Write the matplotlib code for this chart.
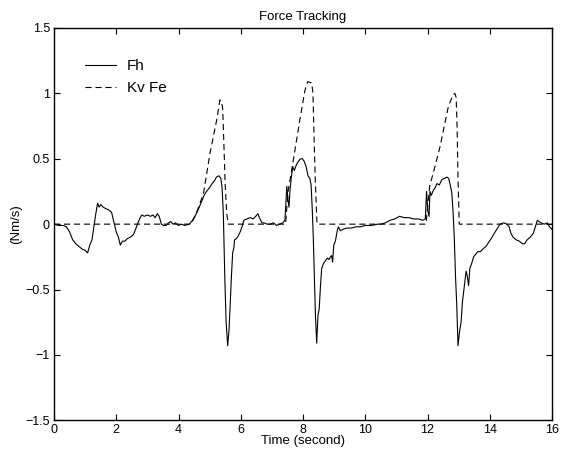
import matplotlib
matplotlib.use("Agg")
import matplotlib.pyplot as plt

plt.rcParams['font.family'] = ['Liberation Sans', 'DejaVu Sans']

# Fh (time, value)
t_fh = [0.00, 0.15, 0.30, 0.40, 0.50, 0.60, 0.70, 0.80, 0.90, 1.00, 1.08, 1.15, 1.22, 1.28, 1.33,
        1.40, 1.45, 1.50, 1.58, 1.65, 1.75, 1.85, 1.92, 2.00, 2.07, 2.13, 2.20, 2.28, 2.36, 2.45,
        2.55, 2.62, 2.68, 2.75, 2.82, 2.90, 3.00, 3.10, 3.18, 3.25, 3.32, 3.38, 3.45, 3.52, 3.60,
        3.68, 3.75, 3.82, 3.90, 4.00, 4.10, 4.20, 4.35, 4.45, 4.55, 4.65, 4.75, 4.82, 4.90, 5.00,
        5.08, 5.15, 5.22, 5.30, 5.36, 5.40, 5.44, 5.49, 5.53, 5.58, 5.62, 5.66, 5.70, 5.74, 5.78,
        5.80, 5.86, 5.92, 5.98, 6.04, 6.10, 6.20, 6.30, 6.40, 6.48, 6.55, 6.60, 6.68, 6.75, 6.85,
        6.95, 7.05, 7.15, 7.25, 7.35, 7.42, 7.46, 7.48, 7.52, 7.55, 7.58, 7.62, 7.67, 7.72, 7.78,
        7.85, 7.92, 7.98, 8.04, 8.10, 8.16, 8.22, 8.26, 8.30, 8.33, 8.37, 8.40, 8.44, 8.48, 8.52,
        8.56, 8.60, 8.66, 8.72, 8.78, 8.84, 8.88, 8.92, 8.95, 8.99, 9.04, 9.10, 9.14, 9.20, 9.28,
        9.40, 9.55, 9.70, 9.85, 10.00, 10.20, 10.40, 10.50, 10.65, 10.80, 10.95, 11.10, 11.25, 11.40,
        11.55, 11.70, 11.85, 11.93, 11.97, 12.01, 12.05, 12.08, 12.12, 12.19, 12.25, 12.30, 12.38,
        12.46, 12.55, 12.62, 12.68, 12.73, 12.78, 12.82, 12.86, 12.90, 12.94, 12.98, 13.03, 13.08,
        13.12, 13.18, 13.24, 13.28, 13.32, 13.36, 13.42, 13.48, 13.55, 13.62, 13.70, 13.78, 13.88,
        13.96, 14.05, 14.12, 14.20, 14.28, 14.33, 14.45, 14.55, 14.62, 14.68, 14.75, 14.85, 14.95,
        15.05, 15.12, 15.20, 15.30, 15.40, 15.48, 15.53, 15.58, 15.65, 15.75, 15.85, 15.92, 16.00]
fh = [0.00, -0.01, -0.01, -0.02, -0.06, -0.12, -0.15, -0.17, -0.19, -0.20, -0.22, -0.16, -0.12, -0.02, 0.06,
      0.16, 0.13, 0.15, 0.13, 0.12, 0.11, 0.09, 0.02, -0.06, -0.10, -0.16, -0.13, -0.13, -0.11, -0.10,
      -0.08, -0.04, 0.00, 0.04, 0.07, 0.06, 0.07, 0.06, 0.07, 0.05, 0.08, 0.06, 0.00, -0.01, -0.01,
      0.01, 0.02, 0.00, 0.01, -0.01, 0.00, -0.01, 0.00, 0.03, 0.07, 0.12, 0.18, 0.22, 0.25, 0.28,
      0.31, 0.33, 0.36, 0.37, 0.35, 0.28, 0.08, -0.43, -0.75, -0.93, -0.82, -0.62, -0.40, -0.22, -0.18,
      -0.12, -0.11, -0.09, -0.06, -0.02, 0.03, 0.04, 0.05, 0.04, 0.06, 0.08, 0.05, 0.01, 0.01, 0.00,
      0.00, 0.01, -0.01, 0.00, 0.01, 0.03, 0.20, 0.29, 0.18, 0.13, 0.25, 0.35, 0.44, 0.41, 0.45,
      0.48, 0.50, 0.50, 0.48, 0.44, 0.37, 0.35, 0.30, 0.10, -0.10, -0.45, -0.70, -0.91, -0.70, -0.65,
      -0.48, -0.34, -0.30, -0.28, -0.26, -0.27, -0.25, -0.24, -0.29, -0.16, -0.13, -0.05, -0.02, -0.05, -0.04,
      -0.03, -0.03, -0.02, -0.02, -0.01, -0.01, 0.00, 0.00, 0.01, 0.03, 0.04, 0.06, 0.05, 0.05,
      0.04, 0.04, 0.03, 0.04, 0.25, 0.10, 0.06, 0.25, 0.22, 0.26, 0.28, 0.31, 0.30,
      0.34, 0.35, 0.36, 0.35, 0.30, 0.24, 0.10, -0.10, -0.40, -0.62, -0.93, -0.82, -0.75,
      -0.60, -0.48, -0.36, -0.40, -0.47, -0.34, -0.30, -0.25, -0.23, -0.21, -0.21, -0.19, -0.17,
      -0.14, -0.11, -0.08, -0.05, -0.02, 0.00, 0.01, 0.00, -0.02, -0.07, -0.10, -0.12, -0.13,
      -0.15, -0.15, -0.12, -0.10, -0.07, -0.01, 0.03, 0.02, 0.01, 0.00, 0.01, -0.02, -0.04]

# Kv Fe (time, value)
t_fe = [0.00, 4.40, 4.55, 4.80, 5.01, 5.23, 5.33, 5.38, 5.42, 5.46, 5.50, 5.55, 5.60,
        7.44, 7.52, 7.69, 7.90, 8.06, 8.15, 8.28, 8.32, 8.36, 8.40, 8.45,
        11.95, 12.07, 12.25, 12.40, 12.67, 12.82, 12.88, 12.92, 12.95, 12.98, 13.02, 16.00]
fe = [0.00, 0.00, 0.07, 0.23, 0.54, 0.80, 0.95, 0.94, 0.88, 0.60, 0.30, 0.08, 0.00,
      0.00, 0.25, 0.49, 0.80, 1.02, 1.09, 1.08, 1.00, 0.62, 0.30, 0.00,
      0.00, 0.29, 0.45, 0.59, 0.90, 0.99, 1.00, 0.97, 0.75, 0.35, 0.00, 0.00]

xticks = [0, 2, 4, 6, 8, 10, 12, 14, 16]
yticks = [-1.5, -1, -0.5, 0, 0.5, 1, 1.5]
ytick_labels = ['\u22121.5', '\u22121', '\u22120.5', '0', '0.5', '1', '1.5']

fig = plt.figure(figsize=(5.73, 4.58), dpi=100)
ax = fig.add_axes([54/573, 1-420.3/458, (552-54)/573, (420.3-28)/458])

ax.plot(t_fh, fh, color='black', lw=0.8, label='Fh')
ax.plot(t_fe, fe, color='black', lw=0.8, linestyle=(0, (5.5, 3.5)), label='Kv Fe')

ax.set_xlim(0, 16)
ax.set_ylim(-1.5, 1.5)
ax.set_xticks(xticks)
ax.set_xticklabels([str(v) for v in xticks])
ax.set_yticks(yticks)
ax.set_yticklabels(ytick_labels)
ax.tick_params(direction='in', length=4, width=0.8, top=True, right=True,
               labelsize=9, pad=3)
for s in ax.spines.values():
    s.set_linewidth(1.0)

ax.set_title('Force Tracking', fontsize=9.5, pad=6)
ax.set_xlabel('Time (second)', fontsize=9.5, labelpad=-1)
ax.set_ylabel('(Nm/s)', fontsize=9.5, labelpad=2)

leg = ax.legend(loc='upper left', bbox_to_anchor=(0.035, 0.955), frameon=False,
                fontsize=11, handlelength=2.0, handletextpad=0.72, labelspacing=0.5)

fig.savefig('out.png', dpi=100)
